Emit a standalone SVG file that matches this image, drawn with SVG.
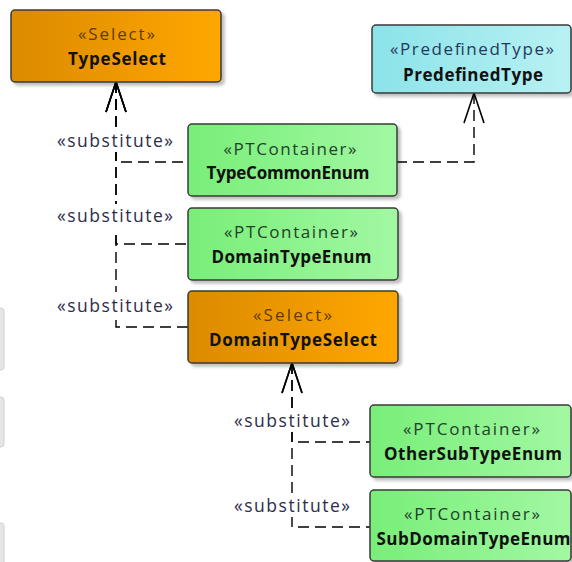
<svg xmlns="http://www.w3.org/2000/svg" width="572" height="562" viewBox="0 0 572 562">
<defs>
  <linearGradient id="gOrange" x1="0" y1="0" x2="1" y2="0">
    <stop offset="0" stop-color="#dc8b00"/>
    <stop offset="1" stop-color="#ffa600"/>
  </linearGradient>
  <linearGradient id="gGreen" x1="0" y1="0" x2="1" y2="0">
    <stop offset="0" stop-color="#78ee78"/>
    <stop offset="1" stop-color="#a2f8a2"/>
  </linearGradient>
  <linearGradient id="gCyan" x1="0" y1="0" x2="1" y2="0">
    <stop offset="0" stop-color="#8be3e9"/>
    <stop offset="1" stop-color="#b8f1f3"/>
  </linearGradient>
  <filter id="shadow" x="-10%" y="-10%" width="130%" height="140%">
    <feDropShadow dx="3" dy="3" stdDeviation="1.5" flood-color="#000" flood-opacity="0.25"/>
  </filter>
  <marker id="openArrow" markerUnits="userSpaceOnUse" markerWidth="34" markerHeight="26" refX="31" refY="12" orient="auto-start-reverse">
    <path d="M1,2 L31,12 L1,22" fill="none" stroke="#000" stroke-width="1.6" stroke-dasharray="none"/>
  </marker>
</defs>
<style>
  .box { stroke: #3a3a3a; stroke-width: 1.5; filter: url(#shadow); }
  .orange { fill: url(#gOrange); }
  .green { fill: url(#gGreen); }
  .cyan { fill: url(#gCyan); }
  text { font-family: "Open Sans", "Noto Sans", "DejaVu Sans", sans-serif; text-anchor: middle; }
  .stereo { font-size: 17px; }
  .name { font-size: 17px; font-weight: bold; fill: #111; }
  .st-orange { fill: #5e3b00; }
  .st-green { fill: #22402a; }
  .st-cyan { fill: #26385a; }
  .conn { fill: none; stroke: #000; stroke-width: 1.4; stroke-dasharray: 11 6; }
  .lblbg { fill: #fff; }
  .lbl { font-size: 17.5px; fill: #2e2e4a; }
  .edge { fill: #e6e6e6; stroke: #d2d2d2; stroke-width: 1; }
</style>
<rect width="572" height="562" fill="#fff"/>

<!-- left-edge partial shapes -->
<rect class="edge" x="-8" y="308" width="12" height="62" rx="3"/>
<rect class="edge" x="-8" y="397" width="12" height="50" rx="3"/>
<rect class="edge" x="-8" y="523" width="12" height="50" rx="3"/>

<g id="connectors">
  <path id="c1" class="conn" d="M116,82 V162 H188" marker-start="url(#openArrow)"/>
  <path id="c2" class="conn" d="M116,82 V244 H188" marker-start="url(#openArrow)"/>
  <path id="c3" class="conn" d="M116,82 V327 H188" marker-start="url(#openArrow)"/>
  <path id="c4" class="conn" d="M474,93 V162 H397" marker-start="url(#openArrow)"/>
  <path id="c5" class="conn" d="M292,363 V442 H370" marker-start="url(#openArrow)"/>
  <path id="c6" class="conn" d="M292,363 V527 H370" marker-start="url(#openArrow)"/>
  <g id="labels">
    <rect class="lblbg" x="104" y="129" width="24" height="23"/>
    <text class="lbl" x="115" y="146.5" textLength="116" lengthAdjust="spacing">«substitute»</text>
    <rect class="lblbg" x="104" y="204" width="24" height="28"/>
    <text class="lbl" x="115" y="221.5" textLength="116" lengthAdjust="spacing">«substitute»</text>
    <rect class="lblbg" x="104" y="292" width="24" height="27"/>
    <text class="lbl" x="115" y="312" textLength="116" lengthAdjust="spacing">«substitute»</text>
    <rect class="lblbg" x="280" y="409" width="24" height="23"/>
    <text class="lbl" x="292" y="426.5" textLength="116" lengthAdjust="spacing">«substitute»</text>
    <rect class="lblbg" x="280" y="494" width="24" height="23"/>
    <text class="lbl" x="292" y="511.5" textLength="116" lengthAdjust="spacing">«substitute»</text>
  </g>
</g>

<g id="TypeSelect">
  <rect class="box orange" x="11" y="10" width="210" height="72" rx="4"/>
  <text class="stereo st-orange" x="116.5" y="40" textLength="77" lengthAdjust="spacing">«Select»</text>
  <text class="name" x="117" y="65" textLength="98" lengthAdjust="spacing">TypeSelect</text>
</g>

<g id="PredefinedType">
  <rect class="box cyan" x="372" y="25" width="199" height="68" rx="4"/>
  <text class="stereo st-cyan" x="472" y="55" textLength="164" lengthAdjust="spacing">«PredefinedType»</text>
  <text class="name" x="473" y="81" textLength="140" lengthAdjust="spacing">PredefinedType</text>
</g>

<g id="TypeCommonEnum">
  <rect class="box green" x="188" y="124" width="209" height="72" rx="4"/>
  <text class="stereo st-green" x="290" y="155" textLength="133" lengthAdjust="spacing">«PTContainer»</text>
  <text class="name" x="288" y="178.5" textLength="163" lengthAdjust="spacing">TypeCommonEnum</text>
</g>

<g id="DomainTypeEnum">
  <rect class="box green" x="188" y="208" width="210" height="72" rx="4"/>
  <text class="stereo st-green" x="291" y="238" textLength="134" lengthAdjust="spacing">«PTContainer»</text>
  <text class="name" x="291.5" y="263" textLength="160" lengthAdjust="spacing">DomainTypeEnum</text>
</g>

<g id="DomainTypeSelect">
  <rect class="box orange" x="188" y="291" width="210" height="72" rx="4"/>
  <text class="stereo st-orange" x="292.5" y="321" textLength="79" lengthAdjust="spacing">«Select»</text>
  <text class="name" x="293" y="346" textLength="168" lengthAdjust="spacing">DomainTypeSelect</text>
</g>

<g id="OtherSubTypeEnum">
  <rect class="box green" x="370" y="405" width="201" height="72" rx="4"/>
  <text class="stereo st-green" x="471.5" y="434.5" textLength="137" lengthAdjust="spacing">«PTContainer»</text>
  <text class="name" x="473" y="460" textLength="178" lengthAdjust="spacing">OtherSubTypeEnum</text>
</g>

<g id="SubDomainTypeEnum">
  <rect class="box green" x="370" y="490" width="201" height="71" rx="4"/>
  <text class="stereo st-green" x="472" y="519.5" textLength="136" lengthAdjust="spacing">«PTContainer»</text>
  <text class="name" x="473.5" y="545" textLength="194" lengthAdjust="spacing">SubDomainTypeEnum</text>
</g>
</svg>
